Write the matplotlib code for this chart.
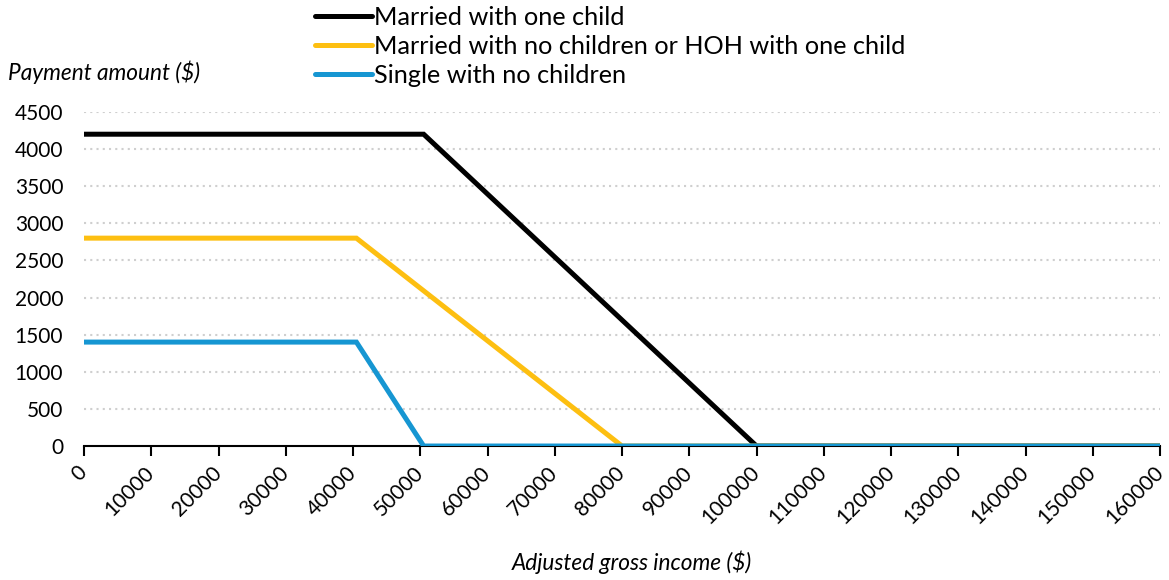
import matplotlib.pyplot as plt

# income breakpoints ($) and payment amounts ($)
married_one_child_x = [0, 50500, 100000, 160000]
married_one_child_y = [4200, 4200, 0, 0]
married_none_x = [0, 40500, 80000, 160000]
married_none_y = [2800, 2800, 0, 0]
single_x = [0, 40500, 50500, 160000]
single_y = [1400, 1400, 0, 0]

labels = ["Married with one child",
          "Married with no children or HOH with one child",
          "Single with no children"]
colors = ["#000000", "#fdbf11", "#1696d2"]

x_ticks = list(range(0, 160001, 10000))
y_ticks = list(range(0, 4501, 500))

plt.rcParams['font.family'] = ['Lato', 'DejaVu Sans']

fig = plt.figure(figsize=(11.69, 5.80), dpi=100)
ax = fig.add_axes([0.0719, 0.231, 0.9204, 0.576])

series = [(married_one_child_x, married_one_child_y),
          (married_none_x, married_none_y),
          (single_x, single_y)]
for (xs, ys), lab, c in zip(series, labels, colors):
    ax.plot(xs, ys, color=c, lw=3.6, label=lab,
            solid_capstyle='round', solid_joinstyle='miter', zorder=3)

ax.set_xlim(0, 160000)
ax.set_ylim(0, 4500)
ax.set_xticks(x_ticks)
ax.set_xticklabels([str(v) for v in x_ticks], rotation=45, ha='right', va='center',
                   rotation_mode='anchor', fontsize=15)
ax.set_yticks(y_ticks)
ax.set_yticklabels([str(v) for v in y_ticks], fontsize=15)

ax.tick_params(axis='y', length=0, pad=15)
ax.tick_params(axis='x', length=7, width=1.5, direction='out', pad=10)

for s in ['top', 'right', 'left']:
    ax.spines[s].set_visible(False)
ax.spines['bottom'].set_linewidth(1.5)
ax.spines['bottom'].set_zorder(2)

for v in y_ticks[1:]:
    ax.axhline(v, color='#cfcfcf', lw=1.5, ls=(0, (1, 2)), zorder=1)

fig.text(8 / 1169, 1 - 72 / 580, "Payment amount ($)", fontsize=16.3,
         style='italic', ha='left', va='center')
fig.text(632 / 1169, 1 - 562 / 580, "Adjusted gross income ($)", fontsize=16.3,
         style='italic', ha='center', va='center')

fig.legend(loc='upper left', bbox_to_anchor=(297 / 1169, 1.021), frameon=False,
           fontsize=18.2, handlelength=2.28, handletextpad=0.06, labelspacing=0.25,
           borderpad=0.2)

fig.savefig("out.png", dpi=100)
